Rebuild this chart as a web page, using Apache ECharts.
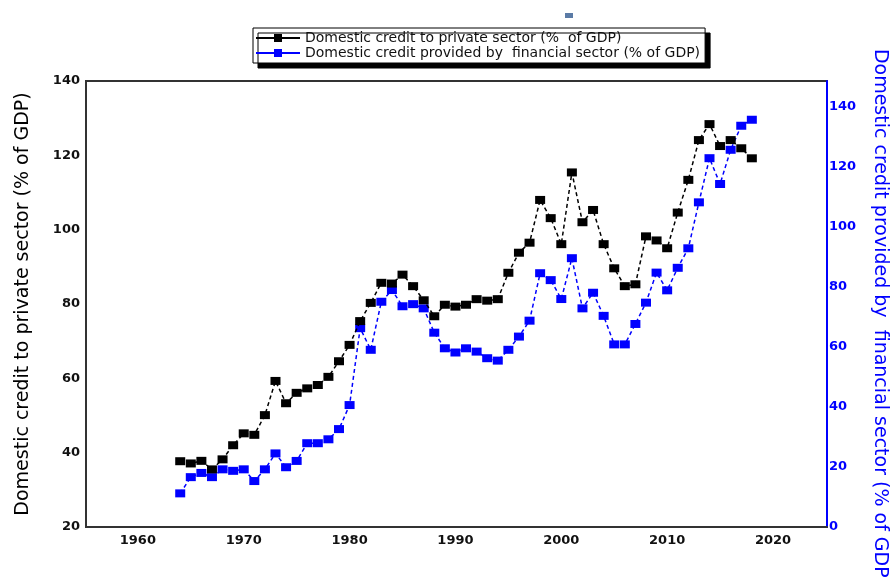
<!DOCTYPE html>
<html>
<head>
<meta charset="utf-8">
<script src="https://cdn.jsdelivr.net/npm/echarts@6/dist/echarts.min.js"></script>
<style>
  html, body { margin: 0; padding: 0; background: #fff; }
  #main { width: 891px; height: 578px; }
</style>
</head>
<body>
<div id="main"></div>
<script>
// data
const years = [1964, 1965, 1966, 1967, 1968, 1969, 1970, 1971, 1972, 1973,
  1974, 1975, 1976, 1977, 1978, 1979, 1980, 1981, 1982, 1983,
  1984, 1985, 1986, 1987, 1988, 1989, 1990, 1991, 1992, 1993,
  1994, 1995, 1996, 1997, 1998, 1999, 2000, 2001, 2002, 2003,
  2004, 2005, 2006, 2007, 2008, 2009, 2010, 2011, 2012, 2013,
  2014, 2015, 2016, 2017, 2018]
// left axis: Domestic credit to private sector (% of GDP)
const privateCredit = [37.7, 37.1, 37.8, 35.5, 38.2, 42.0, 45.2, 44.8, 50.1, 59.3,
  53.3, 56.1, 57.3, 58.2, 60.4, 64.6, 69.0, 75.4, 80.3, 85.7,
  85.5, 87.9, 84.8, 81.0, 76.7, 79.8, 79.3, 79.8, 81.3, 80.9,
  81.3, 88.4, 93.8, 96.5, 108.0, 103.1, 96.1, 115.4, 102.0, 105.3,
  96.1, 89.6, 84.8, 85.3, 98.2, 97.1, 95.0, 104.6, 113.4, 124.1,
  128.4, 122.5, 124.1, 121.9, 119.2]
// right axis: Domestic credit provided by financial sector (% of GDP)
const financialCredit = [11.2, 16.6, 18.0, 16.6, 19.2, 18.7, 19.2, 15.3, 19.2, 24.5,
  19.9, 22.0, 27.9, 27.9, 29.2, 32.6, 40.6, 66.2, 59.0, 75.0,
  78.9, 73.5, 74.2, 72.8, 64.7, 59.5, 58.1, 59.5, 58.4, 56.2,
  55.4, 59.0, 63.4, 68.7, 84.5, 82.2, 75.9, 89.5, 72.8, 78.0,
  70.3, 60.8, 60.8, 67.6, 74.7, 84.7, 78.8, 86.3, 92.8, 108.1,
  122.8, 114.2, 125.6, 133.6, 135.6]

const xLabels = [1960, 1970, 1980, 1990, 2000, 2010, 2020]
const rightLabels = [0, 20, 40, 60, 80, 100, 120, 140]

const nameLeft = 'Domestic credit to private sector (% of GDP)'
const nameRight = 'Domestic credit provided by  financial sector (% of GDP)'
const legendLeft = 'Domestic credit to private sector (%  of GDP)'
const legendRight = 'Domestic credit provided by  financial sector (% of GDP)'

const pairs = (vals) => years.map((y, i) => [y, vals[i]])

var myChart = echarts.init(document.getElementById('main'))

let tickFont = {
  fontFamily: 'DejaVu Sans',
  fontSize: 13,
  fontWeight: 'bold',
}

let option = {
  animation: false,
  backgroundColor: '#fff',
  graphic: [
    {
      type: 'rect',
      left: 565,
      top: 13,
      shape: { width: 8, height: 5 },
      style: { fill: '#5b7ba6' },
    },
  ],
  legend: {
    orient: 'vertical',
    left: 253,
    top: 28,
    padding: [3, 5, 3, 2],
    itemWidth: 44,
    itemHeight: 10,
    itemGap: 1,
    backgroundColor: '#fff',
    borderColor: '#000',
    borderWidth: 1,
    shadowColor: '#000',
    shadowBlur: 0,
    shadowOffsetX: 5,
    shadowOffsetY: 5,
    lineStyle: { type: 'solid', width: 2 },
    textStyle: {
      fontFamily: 'DejaVu Sans',
      fontSize: 14,
      color: '#111',
      lineHeight: 14,
    },
    data: [legendLeft, legendRight],
  },
  grid: {
    left: 86,
    right: 64,
    top: 81,
    bottom: 51,
    outerBoundsMode: 'none',
    show: true,
    borderColor: '#333',
    borderWidth: 2,
  },
  xAxis: {
    type: 'value',
    min: 1955.1,
    max: 2025.1,
    splitLine: { show: false },
    axisLine: { lineStyle: { color: '#333', width: 2 } },
    axisTick: { show: false },
    axisLabel: Object.assign({
      color: '#111',
      margin: 7,
      customValues: xLabels,
      formatter: (v) => String(v),
    }, tickFont),
  },
  yAxis: [
    {
      type: 'value',
      min: 20,
      max: 140,
      interval: 20,
      position: 'left',
      name: nameLeft,
      nameLocation: 'middle',
      nameGap: 53,
      nameTextStyle: { fontFamily: 'DejaVu Sans', fontSize: 19, color: '#000' },
      splitLine: { show: false },
      axisLine: { show: true, lineStyle: { color: '#333', width: 2 } },
      axisTick: { show: false },
      axisLabel: Object.assign({ color: '#111', margin: 6 }, tickFont),
    },
    {
      type: 'value',
      min: 0,
      max: 148.5,
      position: 'right',
      name: nameRight,
      nameLocation: 'middle',
      nameRotate: -90,
      nameGap: 43,
      nameTextStyle: {
        fontFamily: 'DejaVu Sans',
        fontSize: 19,
        color: '#0000ff',
        padding: [0, 0, 0, 26],
      },
      splitLine: { show: false },
      axisLine: { show: true, lineStyle: { color: '#0000ff', width: 2 } },
      axisTick: { show: false },
      axisLabel: Object.assign({ color: '#0000ff', margin: 2, customValues: rightLabels }, tickFont),
    },
  ],
  series: [
    {
      name: legendLeft,
      type: 'line',
      yAxisIndex: 0,
      data: pairs(privateCredit),
      symbol: 'rect',
      symbolSize: [10, 8],
      itemStyle: { color: '#000' },
      lineStyle: { color: '#000', width: 1.5, type: [4, 3] },
      z: 3,
    },
    {
      name: legendRight,
      type: 'line',
      yAxisIndex: 1,
      data: pairs(financialCredit),
      symbol: 'rect',
      symbolSize: [10, 8],
      itemStyle: { color: '#0000ff' },
      lineStyle: { color: '#0000ff', width: 1.5, type: [4, 3] },
      z: 2,
    },
  ],
}

myChart.setOption(option)
</script>
</body>
</html>
